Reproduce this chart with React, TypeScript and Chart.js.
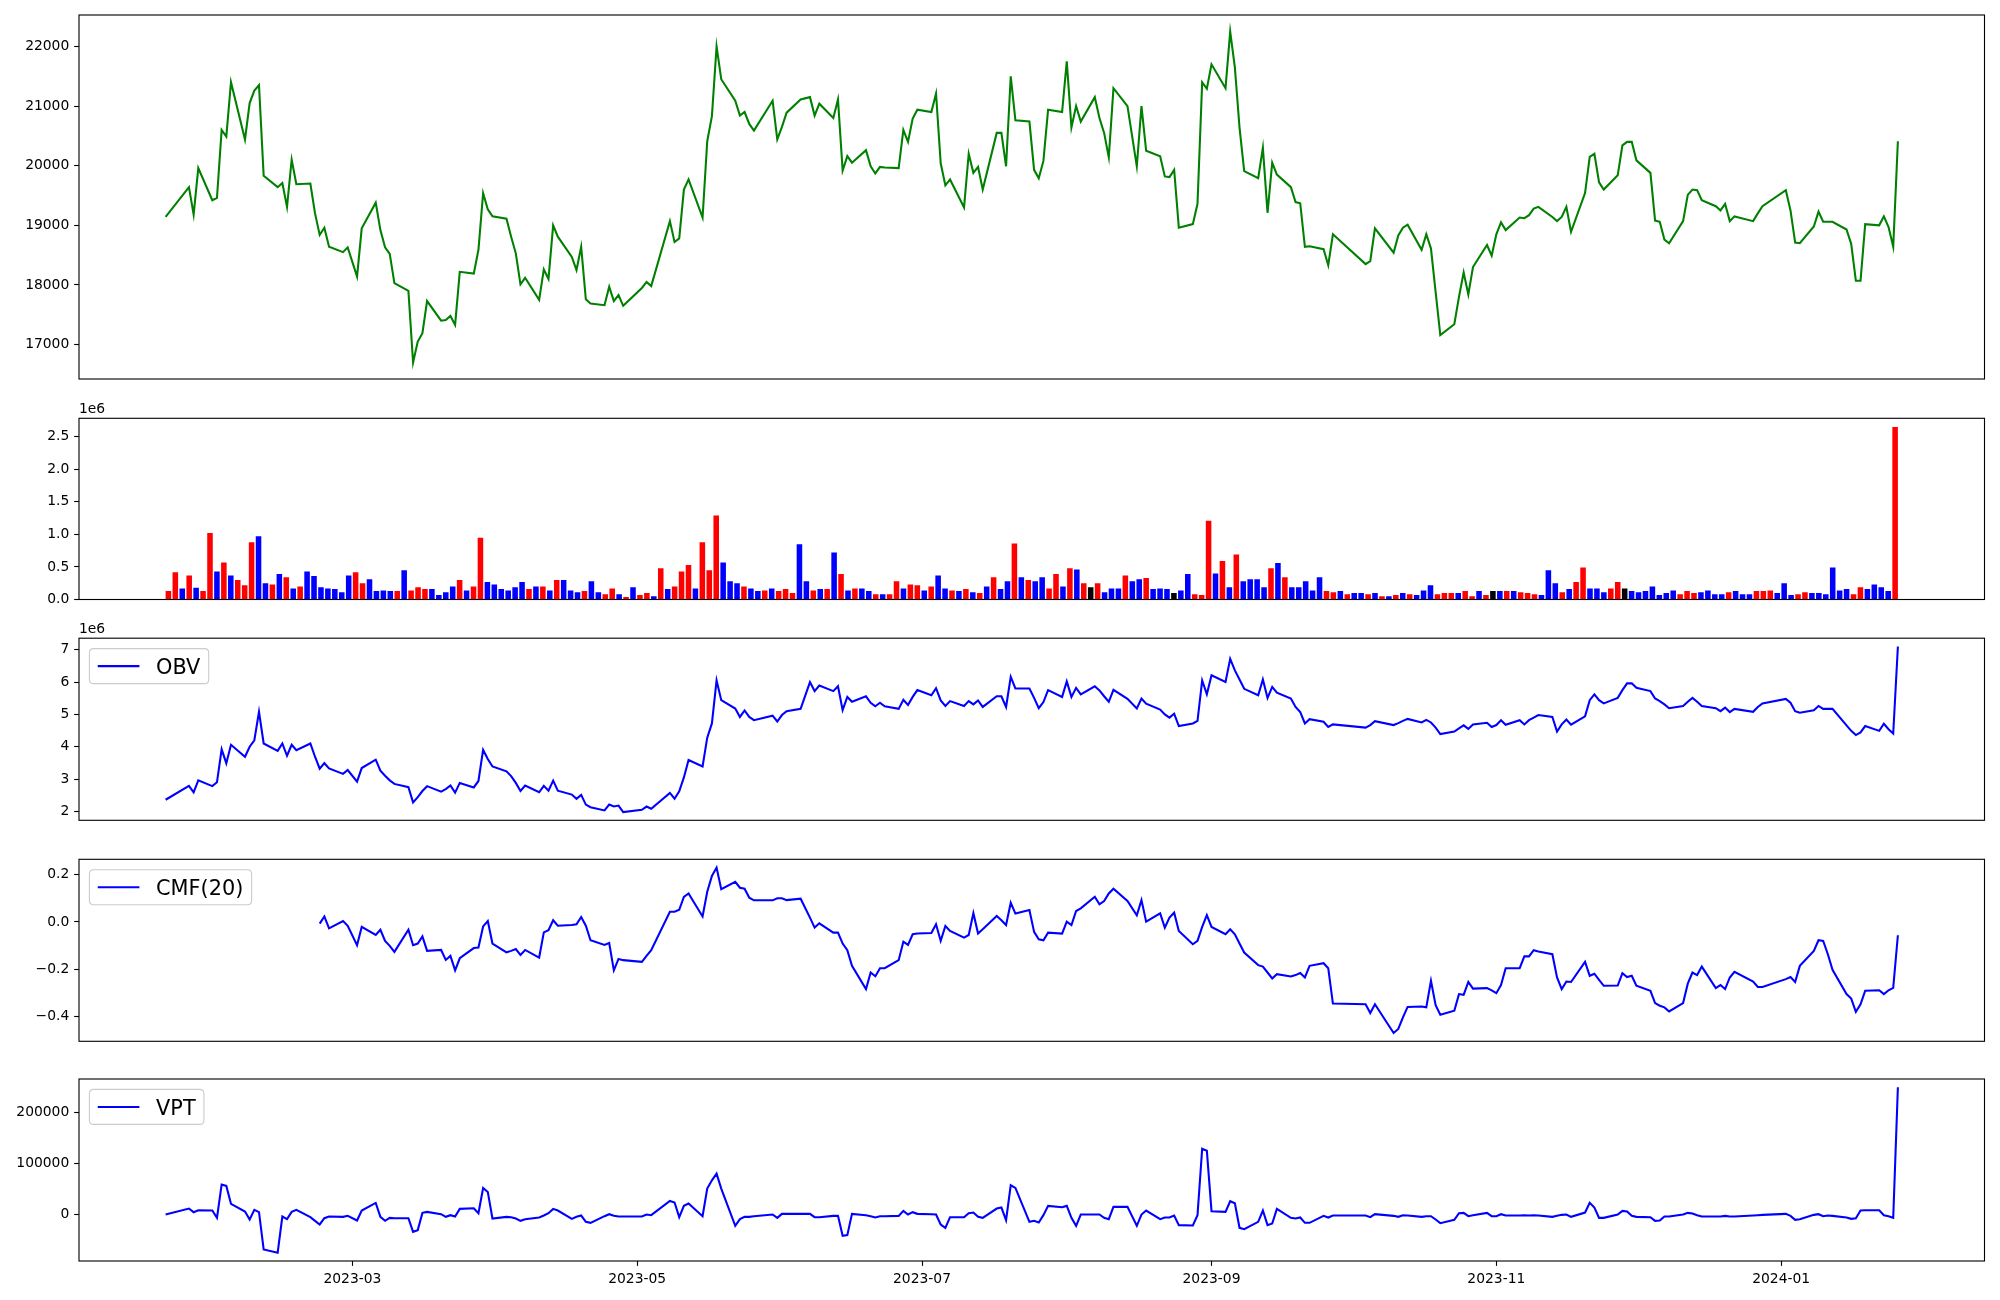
import React, { useEffect, useRef } from 'react';
import { Chart, registerables } from 'chart.js';

Chart.register(...registerables);

const FONT = '"DejaVu Sans", sans-serif';

// ---------------- data ----------------
const tradingDays: [string, number[]][] = [
  ['2023-01', [20, 25, 26, 27, 30, 31]],
  ['2023-02', [1, 2, 3, 6, 7, 8, 9, 10, 13, 14, 15, 16, 17, 20, 21, 22, 23, 24, 27, 28]],
  ['2023-03', [2, 3, 6, 7, 8, 9, 10, 13, 14, 15, 16, 17, 20, 21, 22, 23, 24, 27, 28, 29, 30, 31]],
  ['2023-04', [3, 4, 5, 6, 7, 10, 11, 12, 13, 14, 17, 18, 19, 20, 21, 24, 25, 26, 27, 28]],
  ['2023-05', [2, 3, 4, 8, 9, 10, 11, 12, 15, 16, 17, 18, 19, 22, 23, 24, 25, 26, 30, 31]],
  ['2023-06', [1, 2, 5, 7, 8, 9, 12, 13, 14, 15, 16, 19, 20, 21, 22, 23, 26, 27, 28, 29, 30]],
  ['2023-07', [3, 4, 5, 6, 7, 10, 11, 12, 13, 14, 17, 18, 19, 20, 21, 24, 25, 26, 27, 28, 31]],
  ['2023-08', [1, 2, 3, 4, 7, 8, 9, 10, 11, 14, 16, 17, 18, 21, 22, 23, 24, 25, 28, 29, 30, 31]],
  ['2023-09', [1, 4, 5, 6, 7, 8, 11, 12, 13, 14, 15, 18, 19, 20, 21, 22, 25, 26, 27]],
  ['2023-10', [4, 5, 6, 10, 11, 12, 13, 16, 17, 18, 19, 20, 23, 24, 25, 26, 27, 30, 31]],
  ['2023-11', [1, 2, 3, 6, 7, 8, 9, 10, 13, 14, 15, 16, 17, 20, 21, 22, 23, 24, 27, 28, 29, 30]],
  ['2023-12', [1, 4, 5, 6, 7, 8, 11, 12, 13, 14, 15, 18, 19, 20, 21, 22, 26, 27, 28]],
  ['2024-01', [2, 3, 4, 5, 8, 9, 10, 11, 12, 15, 16, 17, 18, 19, 22, 23, 24, 25, 26]],
];

const closePrice: number[] = [
  19140, 19640, 19180, 19960, 19420, 19460,
  20600, 20490, 21400, 20440, 21050, 21260, 21350, 19830, 19640, 19710, 19310, 20100, 19690, 19700, 19200, 18840, 18960, 18640, 18550, 18630,
  18140, 18950, 19380, 18920, 18630, 18520, 18030, 17900, 16700, 17050, 17190, 17730, 17400, 17410, 17480, 17330, 18220, 18190, 18590, 19540, 19270, 19150,
  19110, 18810, 18530, 18010, 18120, 17750, 18260, 18100, 19000, 18810, 18470, 18250, 18640, 17760, 17690, 17660, 17970, 17730, 17830, 17650,
  17950, 18050, 17980, 19070, 18720, 18780, 19600, 19770, 19130, 20410, 20830, 22000, 21450, 21090, 20840, 20900, 20700, 20590, 21090, 20440,
  20650, 20890, 21110, 21150, 20840, 21040, 20800, 21110, 19920, 20160, 20050, 20260, 19990, 19870, 19980, 19970, 19960, 20600, 20400, 20790, 20940,
  20900, 21210, 20040, 19670, 19770, 19300, 20200, 19880, 19980, 19600, 20550, 20550, 19990, 21500, 20760, 20740, 19930, 19790, 20080, 20940, 20900,
  21750, 20640, 21000, 20740, 21150, 20800, 20550, 20140, 21300, 21000, 19990, 21000, 20250, 20160, 19820, 19810, 19930, 18960, 19020, 19360, 21400, 21290,
  21700, 21300, 22250, 21650, 20640, 19910, 19790, 20300, 19210, 20050, 19850, 19640, 19390, 19370, 18640, 18650, 18600, 18330, 18850,
  18350, 18400, 18950, 18540, 18830, 18960, 19010, 18590, 18850, 18610, 17880, 17160, 17340, 17800, 18210, 17840, 18300, 18670, 18490,
  18850, 19050, 18920, 19130, 19120, 19170, 19280, 19310, 19140, 19070, 19140, 19310, 18890, 19540, 20150, 20200, 19720, 19600, 19840, 20340, 20400, 20400,
  20090, 19880, 19080, 19060, 18760, 18700, 19070, 19510, 19600, 19590, 19420, 19320, 19250, 19360, 19070, 19150, 19070, 19200, 19320,
  19590, 19250, 18710, 18700, 18980, 19230, 19060, 19060, 19060, 18930, 18690, 18070, 18070, 19020, 19000, 19150, 18970, 18640, 20410,
];

const volumeMillions: number[] = [
  0.13, 0.42, 0.17, 0.37, 0.18, 0.13,
  1.02, 0.43, 0.57, 0.37, 0.30, 0.22, 0.88, 0.97, 0.25, 0.23, 0.39, 0.34, 0.17, 0.20, 0.43, 0.36, 0.19, 0.17, 0.16, 0.11,
  0.37, 0.42, 0.25, 0.31, 0.13, 0.14, 0.13, 0.13, 0.45, 0.14, 0.19, 0.16, 0.16, 0.07, 0.11, 0.20, 0.30, 0.14, 0.20, 0.95, 0.27, 0.23,
  0.16, 0.14, 0.19, 0.27, 0.16, 0.20, 0.20, 0.14, 0.30, 0.30, 0.14, 0.11, 0.13, 0.28, 0.11, 0.08, 0.17, 0.08, 0.04, 0.19,
  0.07, 0.10, 0.05, 0.48, 0.16, 0.20, 0.43, 0.53, 0.17, 0.88, 0.45, 1.29, 0.57, 0.28, 0.25, 0.20, 0.17, 0.13, 0.14, 0.17,
  0.13, 0.16, 0.10, 0.85, 0.28, 0.14, 0.16, 0.16, 0.72, 0.39, 0.14, 0.17, 0.17, 0.13, 0.08, 0.08, 0.08, 0.28, 0.17, 0.23, 0.22,
  0.14, 0.20, 0.37, 0.17, 0.14, 0.13, 0.16, 0.11, 0.10, 0.20, 0.34, 0.16, 0.28, 0.86, 0.34, 0.30, 0.28, 0.34, 0.17, 0.39, 0.20,
  0.48, 0.46, 0.25, 0.19, 0.25, 0.11, 0.17, 0.17, 0.37, 0.28, 0.31, 0.33, 0.16, 0.17, 0.16, 0.10, 0.14, 0.39, 0.08, 0.07, 1.21, 0.40,
  0.59, 0.19, 0.69, 0.28, 0.31, 0.31, 0.19, 0.48, 0.56, 0.34, 0.19, 0.19, 0.28, 0.14, 0.34, 0.13, 0.11, 0.13, 0.08,
  0.10, 0.10, 0.08, 0.10, 0.05, 0.05, 0.07, 0.10, 0.08, 0.07, 0.14, 0.22, 0.08, 0.10, 0.10, 0.10, 0.13, 0.05, 0.13,
  0.07, 0.13, 0.13, 0.13, 0.13, 0.11, 0.10, 0.08, 0.07, 0.45, 0.25, 0.11, 0.16, 0.27, 0.49, 0.17, 0.17, 0.11, 0.17, 0.27, 0.17, 0.13,
  0.11, 0.13, 0.20, 0.07, 0.10, 0.14, 0.08, 0.13, 0.10, 0.11, 0.14, 0.08, 0.08, 0.11, 0.13, 0.08, 0.08, 0.13, 0.13,
  0.14, 0.10, 0.25, 0.07, 0.08, 0.11, 0.10, 0.10, 0.08, 0.49, 0.14, 0.16, 0.08, 0.19, 0.16, 0.23, 0.19, 0.13, 2.65,
];

// R = up (red), B = down (blue), K = unchanged (black)
const barDirection: string = [
  'RRBRBR',
  'RBRBRRRBBRBRBRBBBBBB',
  'BRRBBBBRBRRRBBBBRBRRBB',
  'BBBBRBRBRBBBRBBRRBRB',
  'RRBRBRRRBRRRBBBRBBRB',
  'RRRBBRBRBRBRBBRBRRBRR',
  'BRBBRBRBRBRBBRBRBBRRB',
  'RBRKRBBBRBBRBBBKBBRRRB',
  'RBRBBBBRBRBBBBBRRBR',
  'BBRBRBRBRBBBRRRBRRB',
  'RKBRBRRRBBBRBRRBBBRRKB',
  'BBBBBBRRRBBBBRBBBRR',
  'RBBBRRBBBBBBRRBBBBR',
].join('');

const obvMillions: number[] = [
  2.36, 2.79, 2.59, 2.96, 2.78, 2.90,
  3.92, 3.49, 4.06, 3.69, 4.00, 4.20, 5.08, 4.10, 3.87, 4.10, 3.72, 4.06, 3.89, 4.10, 3.69, 3.32, 3.49, 3.33, 3.16, 3.28,
  2.92, 3.34, 3.60, 3.26, 3.10, 2.96, 2.85, 2.75, 2.28, 2.44, 2.63, 2.78, 2.61, 2.69, 2.80, 2.58, 2.88, 2.74, 2.94, 3.90, 3.62, 3.39,
  3.24, 3.09, 2.88, 2.63, 2.80, 2.59, 2.79, 2.64, 2.95, 2.64, 2.52, 2.39, 2.51, 2.21, 2.13, 2.03, 2.21, 2.15, 2.18, 1.98,
  2.05, 2.15, 2.08, 2.57, 2.39, 2.62, 3.05, 3.59, 3.39, 4.28, 4.72, 6.05, 5.44, 5.18, 4.92, 5.12, 4.92, 4.82, 4.96, 4.78,
  4.98, 5.10, 5.17, 6.00, 5.72, 5.89, 5.72, 5.87, 5.13, 5.54, 5.39, 5.56, 5.36, 5.25, 5.36, 5.25, 5.17, 5.45, 5.29, 5.54, 5.75,
  5.59, 5.81, 5.43, 5.26, 5.41, 5.26, 5.41, 5.31, 5.43, 5.23, 5.56, 5.56, 5.23, 6.16, 5.80, 5.80, 5.51, 5.19, 5.38, 5.75, 5.54,
  6.02, 5.54, 5.82, 5.62, 5.87, 5.74, 5.56, 5.39, 5.76, 5.48, 5.18, 5.49, 5.33, 5.15, 5.00, 4.90, 5.02, 4.64, 4.72, 4.80, 6.05, 5.62,
  6.21, 6.00, 6.72, 6.36, 6.08, 5.79, 5.59, 6.08, 5.51, 5.85, 5.67, 5.49, 5.23, 5.07, 4.72, 4.85, 4.77, 4.61, 4.69,
  4.59, 4.67, 4.79, 4.67, 4.73, 4.80, 4.86, 4.75, 4.83, 4.75, 4.59, 4.39, 4.47, 4.57, 4.66, 4.55, 4.69, 4.74, 4.61,
  4.67, 4.82, 4.68, 4.82, 4.69, 4.82, 4.90, 4.98, 4.92, 4.47, 4.69, 4.84, 4.68, 4.94, 5.44, 5.62, 5.44, 5.34, 5.51, 5.75, 5.96, 5.96,
  5.82, 5.72, 5.49, 5.41, 5.31, 5.19, 5.26, 5.39, 5.51, 5.39, 5.26, 5.19, 5.10, 5.21, 5.07, 5.17, 5.08, 5.23, 5.34,
  5.48, 5.36, 5.10, 5.05, 5.13, 5.26, 5.17, 5.17, 5.17, 4.66, 4.49, 4.36, 4.44, 4.64, 4.49, 4.71, 4.54, 4.41, 7.10,
];

const cmfFirstDate = '2023-02-22';
const cmf20: number[] = [
  -0.007, 0.023, -0.027, 0.004, -0.016,
  -0.098, -0.021, -0.055, -0.033, -0.080, -0.101, -0.126, -0.033, -0.098, -0.091, -0.061, -0.122, -0.118, -0.160, -0.143, -0.204, -0.153, -0.110, -0.108, -0.019, 0.004, -0.091,
  -0.128, -0.122, -0.114, -0.139, -0.118, -0.150, -0.044, -0.035, 0.007, -0.016, -0.013, -0.010, 0.021, -0.016, -0.077, -0.097, -0.089, -0.204, -0.156, -0.161,
  -0.168, -0.143, -0.119, 0.043, 0.043, 0.051, 0.105, 0.120, 0.023, 0.127, 0.194, 0.229, 0.138, 0.169, 0.144, 0.140, 0.102, 0.091, 0.091, 0.100,
  0.100, 0.092, 0.098, 0.018, -0.024, -0.006, -0.045, -0.045, -0.091, -0.119, -0.185, -0.283, -0.213, -0.229, -0.195, -0.195, -0.161, -0.083, -0.097, -0.052, -0.049,
  -0.047, -0.010, -0.080, -0.017, -0.038, -0.066, -0.055, 0.037, -0.049, -0.031, 0.025, 0.007, -0.013, 0.081, 0.035, 0.050, -0.042, -0.073, -0.077, -0.045, -0.049,
  0.001, -0.013, 0.046, 0.057, 0.106, 0.074, 0.088, 0.120, 0.140, 0.088, 0.028, 0.092, 0.001, 0.036, -0.024, 0.018, 0.039, -0.038, -0.094, -0.080, -0.021, 0.029,
  -0.021, -0.052, -0.031, -0.052, -0.091, -0.129, -0.182, -0.188, -0.213, -0.238, -0.220, -0.230, -0.224, -0.215, -0.234, -0.185, -0.174, -0.195, -0.344,
  -0.347, -0.384, -0.347, -0.468, -0.451, -0.402, -0.358, -0.356, -0.360, -0.248, -0.351, -0.391, -0.374, -0.304, -0.307, -0.253, -0.281, -0.279, -0.288,
  -0.300, -0.266, -0.195, -0.195, -0.145, -0.145, -0.119, -0.125, -0.136, -0.234, -0.283, -0.251, -0.253, -0.168, -0.227, -0.218, -0.244, -0.269, -0.268, -0.216, -0.232, -0.227,
  -0.269, -0.290, -0.342, -0.353, -0.360, -0.377, -0.342, -0.260, -0.213, -0.224, -0.188, -0.279, -0.266, -0.283, -0.234, -0.210, -0.251, -0.274, -0.274,
  -0.241, -0.232, -0.253, -0.185, -0.122, -0.077, -0.080, -0.136, -0.202, -0.304, -0.323, -0.379, -0.347, -0.290, -0.288, -0.304, -0.288, -0.278, -0.056,
];

const vpt: number[] = [
  0, 11750, 4570, 8490, 7840, -6530,
  58770, 56160, 20900, 5880, -9800, 9140, 4570, -68570, -75100, -3920, -9140, 5220, 9140, -5220, -12410, -19590, -7180, -3920, -4570, -2610,
  -11750, 7840, 22860, -4570, -12410, -6530, -7180, -7180, -33960, -30690, 3270, 5220, 650, -4570, -1310, -3920, 11100, 12410, 2610, 52240, 44400, -7840,
  -4570, -5220, -7840, -12410, -9140, -5880, -1960, 2610, 11100, 7840, -8490, -4570, -1960, -14370, -16330, -3270, 650, -2610, -3920, -3920,
  -3920, 0, -1310, 26770, 23510, -5220, 16980, 21550, -3270, 50930, 67260, 80320, 50930, -22200, -9140, -4570, -4570, -3270, 0, -6530,
  1310, 1310, 1310, 1310, -5220, -5220, -2610, -2610, -41790, -40490, 1310, -1310, -3270, -5880, -3270, -3270, -2610, 7180, 0, 4570, 1310,
  650, 0, -19590, -26120, -5220, -5220, 2610, 3920, -4570, -6530, 11750, 13710, -11100, 57460, 52240, -14370, -12410, -15670, -1310, 16980, 14370,
  16980, -6530, -22200, 0, 0, 0, -6530, -9140, 15020, 15020, -22200, 0, 7840, -9140, -5880, -5880, -1960, -20900, -21550, -1310, 129290, 125380,
  6530, 5220, 26120, 22200, -26120, -28730, -14370, 7840, -20900, -17630, 11100, -6530, -7840, -5880, -16330, -16330, -2610, -5880, -1960,
  -1960, -5220, 650, -2610, -4570, -1310, -1960, -4570, -3270, -3270, -9800, -16980, -10450, 2610, 3270, -3270, -1310, 3270, -3270,
  -3270, 650, -1960, -1960, -1310, -1960, -1310, -1960, -4570, -2610, -650, 0, -4570, 3920, 22860, 13710, -6530, -6530, 0, 7180, 5880, -2610,
  -4570, -5220, -12410, -11750, -3920, -3920, 0, 3270, 1960, -1310, -3920, -3920, -3920, -2610, -3920, -3920, -1960, -1310, -650,
  1310, -2610, -10450, -9140, -650, 650, -3270, -1960, -2610, -5880, -8490, -7180, 7840, 8490, 8490, -1310, -3270, -6530, 250100,
];

const priceTicks = [17000, 18000, 19000, 20000, 21000, 22000];
const volumeTicks = [0, 500000, 1000000, 1500000, 2000000, 2500000];
const obvTicks = [2e6, 3e6, 4e6, 5e6, 6e6, 7e6];
const cmfTicks = [-0.4, -0.2, 0, 0.2];
const vptTicks = [0, 100000, 200000];
const xTickDates = ['2023-03-01', '2023-05-01', '2023-07-01', '2023-09-01', '2023-11-01', '2024-01-01'];
const xTickLabels = ['2023-03', '2023-05', '2023-07', '2023-09', '2023-11', '2024-01'];

// ---------------- helpers ----------------
const dates: string[] = tradingDays.flatMap(([ym, days]) =>
  days.map((d) => `${ym}-${String(d).padStart(2, '0')}`)
);
const BASE = Date.UTC(2023, 0, 20);
function dayNum(s: string): number {
  const [y, m, d] = s.split('-').map(Number);
  return (Date.UTC(y, m - 1, d) - BASE) / 86400000;
}
const xs = dates.map(dayNum);
function lims(vals: number[], frac = 0.05): [number, number] {
  const lo = Math.min(...vals);
  const hi = Math.max(...vals);
  const r = hi - lo;
  return [lo - frac * r, hi + frac * r];
}
const [xMin, xMax] = lims(xs);
const xTickVals = xTickDates.map(dayNum);

const LEFT = 79;
const RIGHT_PAD = 2000 - 1984.5;
const PANELS = [
  { top: 0, height: 400, areaTop: 15, areaBottom: 379 },
  { top: 400, height: 218, areaTop: 418.3, areaBottom: 599.5 },
  { top: 618, height: 222, areaTop: 638.2, areaBottom: 820.3 },
  { top: 840, height: 220, areaTop: 859.3, areaBottom: 1041.3 },
  { top: 1060, height: 240, areaTop: 1079, areaBottom: 1261 },
];

const TICK_FONT = { family: FONT, size: 13.89 };
const tickGrid = {
  display: true,
  drawOnChartArea: false,
  drawTicks: true,
  tickLength: 4.86,
  tickWidth: 1.11,
  tickColor: '#000',
};

function yScale(range: [number, number], ticks: number[], fmt: (v: number) => string) {
  return {
    type: 'linear',
    min: range[0],
    max: range[1],
    bounds: 'data',
    afterBuildTicks: (s: any) => {
      s.ticks = ticks.map((v) => ({ value: v }));
    },
    afterFit: (s: any) => {
      s.width = LEFT;
    },
    ticks: {
      callback: (v: any) => fmt(Number(v)),
      font: TICK_FONT,
      color: '#000',
      padding: 4.86,
      autoSkip: false,
    },
    grid: tickGrid,
    border: { display: false },
  };
}

function decor(opts: { legend?: string; offset?: string }) {
  return {
    id: 'decor',
    afterDraw(chart: any) {
      const { ctx, chartArea: a } = chart;
      ctx.save();
      ctx.strokeStyle = '#000';
      ctx.lineWidth = 1.11;
      ctx.strokeRect(a.left, a.top, a.right - a.left, a.bottom - a.top);
      if (opts.offset) {
        ctx.font = `13.89px ${FONT}`;
        ctx.fillStyle = '#000';
        ctx.textAlign = 'left';
        ctx.textBaseline = 'alphabetic';
        ctx.fillText(opts.offset, a.left, a.top - 5.6);
      }
      if (opts.legend) {
        const fs = 20.83;
        ctx.font = `${fs}px ${FONT}`;
        const tw = ctx.measureText(opts.legend).width;
        const pad = 0.4 * fs;
        const bx = a.left + 0.5 * fs;
        const by = a.top + 0.5 * fs;
        const bw = pad + 2 * fs + 0.8 * fs + tw + pad;
        const bh = 35;
        const r = 0.2 * fs;
        ctx.beginPath();
        ctx.moveTo(bx + r, by);
        ctx.lineTo(bx + bw - r, by);
        ctx.quadraticCurveTo(bx + bw, by, bx + bw, by + r);
        ctx.lineTo(bx + bw, by + bh - r);
        ctx.quadraticCurveTo(bx + bw, by + bh, bx + bw - r, by + bh);
        ctx.lineTo(bx + r, by + bh);
        ctx.quadraticCurveTo(bx, by + bh, bx, by + bh - r);
        ctx.lineTo(bx, by + r);
        ctx.quadraticCurveTo(bx, by, bx + r, by);
        ctx.closePath();
        ctx.fillStyle = 'rgba(255,255,255,0.8)';
        ctx.fill();
        ctx.strokeStyle = '#cccccc';
        ctx.lineWidth = 1.1;
        ctx.stroke();
        const cy = by + bh / 2;
        ctx.beginPath();
        ctx.moveTo(bx + pad, cy);
        ctx.lineTo(bx + pad + 2 * fs, cy);
        ctx.strokeStyle = '#0000ff';
        ctx.lineWidth = 2.08;
        ctx.stroke();
        ctx.fillStyle = '#000';
        ctx.textAlign = 'left';
        ctx.textBaseline = 'alphabetic';
        ctx.fillText(opts.legend, bx + pad + 2.8 * fs, cy + 0.365 * fs);
      }
      ctx.restore();
    },
  };
}

function baseOptions(p: (typeof PANELS)[number], xAxisHeight = 0) {
  return {
    animation: false,
    responsive: false,
    events: [],
    layout: {
      padding: {
        left: 0,
        right: RIGHT_PAD,
        top: p.areaTop - p.top,
        bottom: xAxisHeight ? 0 : p.top + p.height - p.areaBottom,
      },
    },
    plugins: { legend: { display: false }, tooltip: { enabled: false } },
  };
}

const hiddenX = { type: 'linear', min: xMin, max: xMax, display: false };

function lineDataset(values: (number | null)[], color: string, startIdx = 0) {
  return {
    data: values.map((v, i) => ({ x: xs[i + startIdx], y: v })),
    borderColor: color,
    borderWidth: 2.08,
    pointRadius: 0,
    fill: false,
    tension: 0,
  };
}

export default function App() {
  const r0 = useRef<HTMLCanvasElement>(null);
  const r1 = useRef<HTMLCanvasElement>(null);
  const r2 = useRef<HTMLCanvasElement>(null);
  const r3 = useRef<HTMLCanvasElement>(null);
  const r4 = useRef<HTMLCanvasElement>(null);
  const refs = [r0, r1, r2, r3, r4];

  useEffect(() => {
    const charts: Chart[] = [];
    const minus = (s: string) => s.replace('-', '\u2212');

    // Price
    charts.push(
      new Chart(r0.current as HTMLCanvasElement, {
        type: 'line',
        data: { datasets: [lineDataset(closePrice, '#008000') as any] },
        options: {
          ...baseOptions(PANELS[0]),
          scales: {
            x: hiddenX,
            y: yScale(lims(closePrice), priceTicks, (v) => String(v)),
          },
        } as any,
        plugins: [decor({})],
      })
    );

    // Volume
    const n = volumeMillions.length;
    const volVals = volumeMillions.map((v) => v * 1e6);
    const volColor = (c: string) => (c === 'R' ? '#ff0000' : c === 'B' ? '#0000ff' : '#000000');
    const span = n - 1 + 0.8;
    charts.push(
      new Chart(r1.current as HTMLCanvasElement, {
        type: 'bar',
        data: {
          datasets: [
            {
              data: volVals.map((v, i) => ({ x: i, y: v })),
              backgroundColor: volVals.map((_, i) => volColor(barDirection[i])),
              borderWidth: 0,
              barPercentage: 0.8,
              categoryPercentage: 1.0,
            } as any,
          ],
        },
        options: {
          ...baseOptions(PANELS[1]),
          scales: {
            x: {
              type: 'linear',
              offset: false,
              min: -0.4 - 0.05 * span,
              max: n - 1 + 0.4 + 0.05 * span,
              display: false,
            },
            y: yScale([0, Math.max(...volVals) * 1.05], volumeTicks, (v) => (v / 1e6).toFixed(1)),
          },
        } as any,
        plugins: [decor({ offset: '1e6' })],
      })
    );

    // OBV
    const obvVals = obvMillions.map((v) => v * 1e6);
    charts.push(
      new Chart(r2.current as HTMLCanvasElement, {
        type: 'line',
        data: { datasets: [lineDataset(obvVals, '#0000ff') as any] },
        options: {
          ...baseOptions(PANELS[2]),
          scales: {
            x: hiddenX,
            y: yScale(lims(obvVals), obvTicks, (v) => String(Math.round(v / 1e6))),
          },
        } as any,
        plugins: [decor({ legend: 'OBV', offset: '1e6' })],
      })
    );

    // CMF
    const cmfStart = dates.indexOf(cmfFirstDate);
    charts.push(
      new Chart(r3.current as HTMLCanvasElement, {
        type: 'line',
        data: { datasets: [lineDataset(cmf20, '#0000ff', cmfStart) as any] },
        options: {
          ...baseOptions(PANELS[3]),
          scales: {
            x: hiddenX,
            y: yScale(lims(cmf20), cmfTicks, (v) => minus(v.toFixed(1))),
          },
        } as any,
        plugins: [decor({ legend: 'CMF(20)' })],
      })
    );

    // VPT
    const xAxisH = 1300 - PANELS[4].areaBottom;
    charts.push(
      new Chart(r4.current as HTMLCanvasElement, {
        type: 'line',
        data: { datasets: [lineDataset(vpt, '#0000ff') as any] },
        options: {
          ...baseOptions(PANELS[4], xAxisH),
          scales: {
            x: {
              type: 'linear',
              min: xMin,
              max: xMax,
              bounds: 'data',
              afterBuildTicks: (s: any) => {
                s.ticks = xTickVals.map((v) => ({ value: v }));
              },
              afterFit: (s: any) => {
                s.height = xAxisH;
              },
              ticks: {
                callback: (_v: any, i: number) => xTickLabels[i],
                font: TICK_FONT,
                color: '#000',
                padding: 4.86,
                autoSkip: false,
                maxRotation: 0,
                minRotation: 0,
              },
              grid: tickGrid,
              border: { display: false },
            },
            y: yScale(lims(vpt), vptTicks, (v) => String(v)),
          },
        } as any,
        plugins: [decor({ legend: 'VPT' })],
      })
    );

    return () => charts.forEach((c) => c.destroy());
  }, []);

  return (
    <div style={{ position: 'absolute', left: 0, top: 0, width: 2000, height: 1300, background: '#fff' }}>
      {PANELS.map((p, i) => (
        <canvas
          key={i}
          ref={refs[i]}
          width={2000}
          height={p.height}
          style={{ position: 'absolute', left: 0, top: p.top, width: 2000, height: p.height }}
        />
      ))}
    </div>
  );
}
